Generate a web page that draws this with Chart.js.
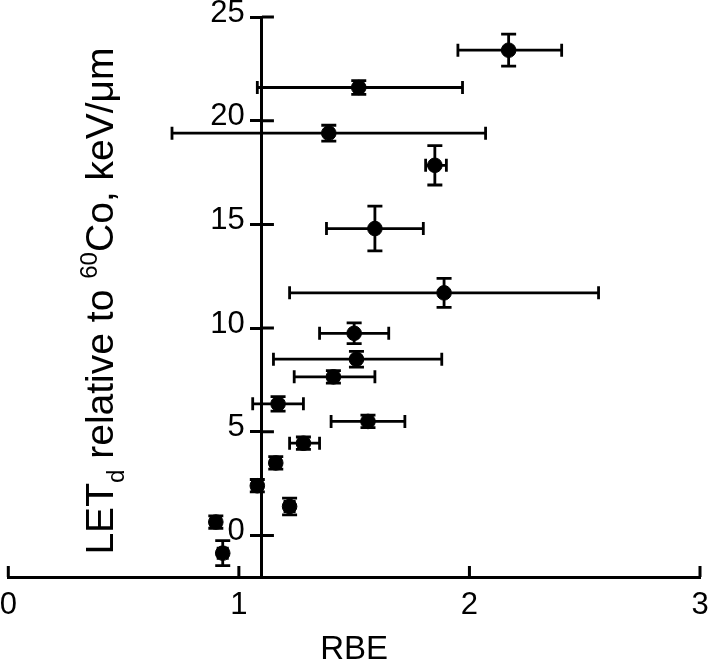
<!DOCTYPE html>
<html lang="en">
<head>
  <meta charset="UTF-8" />
  <title>RBE vs LETd</title>
  <script src="https://cdn.jsdelivr.net/npm/chart.js"></script>
  <style>
    html, body { margin: 0; padding: 0; background: #ffffff; }
    .wrap { position: relative; width: 709px; height: 664px; }
  </style>
</head>
<body>
  <div class="wrap"><canvas id="rbeChart"></canvas></div>
  <script>
    // values
    const rbe     = [2.17, 1.52, 1.39, 1.85, 1.59, 1.89, 1.50, 1.51, 1.41, 1.17, 1.56, 1.28, 1.16, 1.08, 1.22, 0.90, 0.93];
    const rbeLow  = [1.95, 1.08, 0.71, 1.81, 1.38, 1.22, 1.35, 1.15, 1.24, 1.06, 1.40, 1.22, 1.14, 1.06, 1.20, 0.88, 0.91];
    const rbeHigh = [2.40, 1.97, 2.07, 1.90, 1.80, 2.56, 1.65, 1.88, 1.59, 1.28, 1.72, 1.35, 1.18, 1.10, 1.24, 0.92, 0.95];
    const letd    = [23.4, 21.6, 19.4, 17.85, 14.8, 11.7, 9.75, 8.5, 7.65, 6.35, 5.5, 4.45, 3.5, 2.4, 1.4, 0.65, -0.85];
    const letdErr = [0.77, 0.33, 0.38, 0.95, 1.08, 0.70, 0.50, 0.38, 0.30, 0.35, 0.30, 0.30, 0.30, 0.30, 0.40, 0.30, 0.60];

    const xTicks = [0, 1, 2, 3];
    const yTicks = [0, 5, 10, 15, 20, 25];
    const yAxisAt = 1.1;

    const FONT = "'Liberation Sans', Arial, sans-serif";

    // error bars with caps
    const errorBars = {
      id: 'errorBars',
      beforeDatasetsDraw(chart) {
        const {ctx, scales: {x, y}} = chart;
        ctx.save();
        ctx.strokeStyle = '#000';
        ctx.lineWidth = 2.8;
        rbe.forEach((v, i) => {
          const px = x.getPixelForValue(v);
          const py = y.getPixelForValue(letd[i]);
          const xl = x.getPixelForValue(rbeLow[i]);
          const xr = x.getPixelForValue(rbeHigh[i]);
          const yt = y.getPixelForValue(letd[i] + letdErr[i]);
          const yb = y.getPixelForValue(letd[i] - letdErr[i]);
          ctx.beginPath();
          ctx.moveTo(xl, py); ctx.lineTo(xr, py);
          ctx.moveTo(xl, py - 6.5); ctx.lineTo(xl, py + 6.5);
          ctx.moveTo(xr, py - 6.5); ctx.lineTo(xr, py + 6.5);
          ctx.moveTo(px, yt); ctx.lineTo(px, yb);
          ctx.moveTo(px - 7.5, yt); ctx.lineTo(px + 7.5, yt);
          ctx.moveTo(px - 7.5, yb); ctx.lineTo(px + 7.5, yb);
          ctx.stroke();
        });
        ctx.restore();
      }
    };

    // ticks crossing the y axis and pointing up from the x axis
    const innerTicks = {
      id: 'innerTicks',
      afterDraw(chart) {
        const {ctx, scales: {x, y}} = chart;
        const ax = x.getPixelForValue(yAxisAt);
        ctx.save();
        ctx.strokeStyle = '#000';
        ctx.lineWidth = 3;
        ctx.beginPath();
        y.ticks.forEach(t => {
          const py = y.getPixelForValue(t.value);
          ctx.moveTo(ax, py); ctx.lineTo(ax + 12, py);
        });
        x.ticks.forEach(t => {
          const px = x.getPixelForValue(t.value);
          ctx.moveTo(px, y.bottom); ctx.lineTo(px, y.bottom - 11);
        });
        ctx.stroke();
        ctx.restore();
      }
    };

    // y title with subscript / superscript
    const yTitle = {
      id: 'yTitle',
      afterDraw(chart) {
        const ctx = chart.ctx;
        const size = 39;
        const parts = [
          {t: 'LET', s: 1, dy: 0},
          {t: 'd', s: 0.62, dy: 0.28},
          {t: ' relative to ', s: 1, dy: 0},
          {t: '60', s: 0.62, dy: -0.42},
          {t: 'Co, keV/\u03bcm', s: 1, dy: 0}
        ];
        ctx.save();
        let total = 0;
        parts.forEach(p => {
          ctx.font = (size * p.s) + 'px ' + FONT;
          p.w = ctx.measureText(p.t).width;
          total += p.w;
        });
        ctx.translate(113, 301);
        ctx.rotate(-Math.PI / 2);
        ctx.fillStyle = '#000';
        ctx.textBaseline = 'alphabetic';
        let cx = -total / 2;
        parts.forEach(p => {
          ctx.font = (size * p.s) + 'px ' + FONT;
          ctx.fillText(p.t, cx, p.dy * size);
          cx += p.w;
        });
        ctx.restore();
      }
    };

    const ctx = document.getElementById('rbeChart').getContext('2d');
    new Chart(ctx, {
      type: 'scatter',
      data: {
        datasets: [{
          data: rbe.map((v, i) => ({x: v, y: letd[i]})),
          backgroundColor: '#000',
          borderColor: '#000',
          pointRadius: 7.3,
          pointHoverRadius: 7.3
        }]
      },
      options: {
        responsive: true,
        maintainAspectRatio: false,
        animation: false,
        layout: { padding: { left: 7, right: 9, top: 17, bottom: 0 } },
        plugins: { legend: { display: false }, tooltip: { enabled: false } },
        scales: {
          x: {
            type: 'linear',
            min: 0, max: 3,
            afterBuildTicks: s => { s.ticks = xTicks.map(v => ({value: v})); },
            afterFit: s => { s.height = 87; s.paddingLeft = 0; s.paddingRight = 0; },
            border: { display: true, color: '#000', width: 3 },
            grid: { drawOnChartArea: false, drawTicks: false },
            ticks: { color: '#000', font: { family: FONT, size: 31 }, padding: 10, maxRotation: 0, autoSkip: false },
            title: { display: true, text: 'RBE', color: '#000', font: { family: FONT, size: 33, lineHeight: 0.85 }, padding: { top: 8, bottom: 0 } }
          },
          y: {
            type: 'linear',
            min: -2, max: 25,
            position: { x: yAxisAt },
            afterFit: s => { s.width = 0; s.paddingTop = 0; s.paddingBottom = 0; },
            afterBuildTicks: s => { s.ticks = yTicks.map(v => ({value: v})); },
            border: { display: true, color: '#000', width: 3 },
            grid: { drawOnChartArea: false, drawTicks: true, tickLength: 10, color: '#000', tickWidth: 3 },
            ticks: {
              color: '#000', font: { family: FONT, size: 31 }, labelOffset: -4, autoSkip: false,
              // labels sit right-aligned on the axis line, pad them off it
              callback: v => v + '  '
            }
          }
        }
      },
      plugins: [errorBars, innerTicks, yTitle]
    });
  </script>
</body>
</html>
